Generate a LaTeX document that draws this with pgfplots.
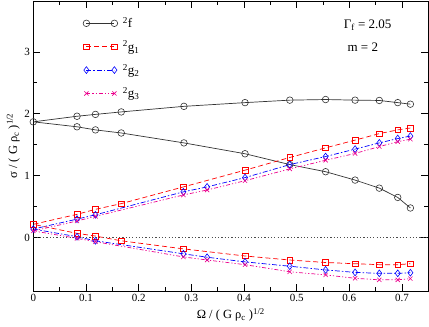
\documentclass[border=0pt]{standalone}
\usepackage{fontspec}
\setmainfont{Liberation Serif}
\usepackage{pgfplots}
\pgfplotsset{compat=1.18}

\begin{document}
\begin{tikzpicture}
\path[use as bounding box] (-33.3pt,-36pt) rectangle (395.7pt,291pt);
\begin{axis}[
    at={(0pt,0pt)}, anchor=south west,
    scale only axis,
    width=395pt, height=290pt,
    xmin=0, xmax=0.75,
    ymin=-0.86, ymax=3.82,
    xtick={0,0.1,...,0.7}, ytick={0,1,2,3},
    minor x tick num=1, minor y tick num=1,
    tick align=inside,
    major tick length=7pt, minor tick length=4pt,
    every tick/.style={black, line width=0.6pt},
    axis line style={line width=0.8pt},
    /pgf/number format/assume math mode=true,
    ticklabel style={font=\fontsize{11}{13}\selectfont},
    xlabel={Ω / ( G ρ\textsubscript{c} )\textsuperscript{1/2}},
    ylabel={σ / ( G ρ\textsubscript{c} )\textsuperscript{1/2}},
    label style={font=\fontsize{12.5}{15}\selectfont},
    xlabel style={at={(axis description cs:0.5,0)}, anchor=center, yshift=-24pt},
    ylabel style={at={(axis description cs:0,0.5)}, anchor=center, yshift=20pt},
    legend style={at={(axis description cs:0.118,0.958)}, anchor=north west,
        draw=none, fill=none, font=\fontsize{13}{15}\selectfont,
        row sep=7.5pt},
    legend cell align=left,
    legend image code/.code={\draw[#1] plot coordinates {(0pt,0pt) (28pt,0pt)}; \path (34pt,0pt);},
    every axis plot/.append style={line width=0.7pt},
  ]
  % f: upper branch then lower branch
  \addplot[black!80, mark=o, mark size=3.3pt, mark options={solid, line width=0.6pt}] coordinates {
    (0.716,2.155) (0.692,2.18) (0.657,2.215) (0.611,2.22) (0.555,2.23) (0.487,2.22)
    (0.402,2.18) (0.286,2.12) (0.167,2.03) (0.118,1.99) (0.083,1.96) (0,1.87)
    (0.083,1.79) (0.118,1.74) (0.167,1.69) (0.286,1.53) (0.402,1.355) (0.487,1.18)
    (0.555,1.065) (0.611,0.93) (0.657,0.80) (0.692,0.65) (0.716,0.48)
  };
  \addlegendentry{\textsuperscript{2}f}
  % g1
  \addplot[red, dash pattern=on 5pt off 3pt, mark=square, mark size=2.8pt, mark options={solid, line width=0.6pt}] coordinates {
    (0.716,1.77) (0.692,1.74) (0.657,1.68) (0.611,1.575) (0.555,1.45) (0.487,1.295)
    (0.402,1.09) (0.285,0.82) (0.167,0.55) (0.118,0.458) (0.083,0.377) (0,0.216)
    (0.083,0.07) (0.118,0.027) (0.167,-0.05) (0.285,-0.18) (0.402,-0.295) (0.487,-0.36)
    (0.555,-0.40) (0.611,-0.42) (0.657,-0.435) (0.692,-0.435) (0.716,-0.42)
  };
  \addlegendentry{\textsuperscript{2}g\textsubscript{1}}
  % g2
  \addplot[blue, dash pattern=on 5pt off 2pt on 1.5pt off 2pt, mark=diamond, mark size=3.4pt, mark options={solid, line width=0.6pt}] coordinates {
    (0.716,1.64) (0.692,1.60) (0.657,1.53) (0.611,1.43) (0.555,1.31) (0.487,1.18)
    (0.402,0.97) (0.33,0.82) (0.285,0.74) (0.118,0.37) (0.083,0.30) (0,0.14)
    (0.083,0.016) (0.118,-0.05) (0.285,-0.26) (0.33,-0.315) (0.402,-0.39) (0.487,-0.46)
    (0.555,-0.52) (0.611,-0.56) (0.657,-0.575) (0.692,-0.575) (0.716,-0.565)
  };
  \addlegendentry{\textsuperscript{2}g\textsubscript{2}}
  % g3
  \addplot[magenta, dash pattern=on 4pt off 2pt on 1.2pt off 2pt on 1.2pt off 2pt, mark=x, mark size=3pt, mark options={solid, line width=0.6pt}] coordinates {
    (0.716,1.59) (0.692,1.55) (0.657,1.47) (0.611,1.36) (0.555,1.25) (0.487,1.11)
    (0.402,0.92) (0.33,0.77) (0.285,0.69) (0.118,0.345) (0.083,0.27) (0,0.11)
    (0.083,-0.01) (0.118,-0.065) (0.285,-0.31) (0.33,-0.36) (0.402,-0.435) (0.487,-0.55)
    (0.555,-0.60) (0.611,-0.655) (0.657,-0.68) (0.692,-0.68) (0.716,-0.66)
  };
  \addlegendentry{\textsuperscript{2}g\textsubscript{3}}
  % zero line
  \addplot[black!70, line width=0.8pt, dash pattern=on 1.2pt off 2.1pt, forget plot] coordinates {(0,0) (0.75,0)};
  \node[anchor=west, font=\fontsize{13}{15}\selectfont] at (axis cs:0.583,3.43) {Γ\textsubscript{f} = 2.05};
  \node[anchor=west, font=\fontsize{13}{15}\selectfont] at (axis cs:0.590,3.07) {m = 2};
\end{axis}
\end{tikzpicture}
\end{document}
